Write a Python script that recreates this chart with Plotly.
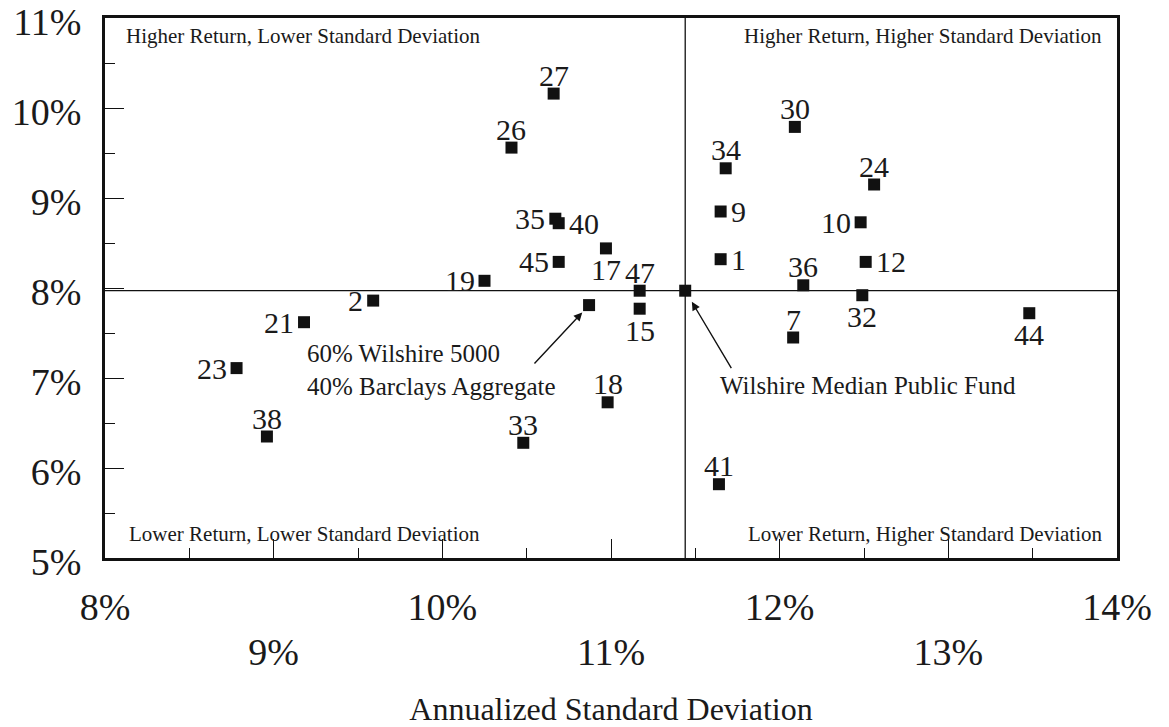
import plotly.graph_objects as go

# ---------------- data ----------------
fund_labels = ["27", "26", "35", "40", "17", "45", "19", "47", "2", "21", "23", "38",
               "15", "18", "33", "30", "34", "24", "9", "10", "1", "12", "36", "32",
               "7", "44", "41"]
fund_std = [10.66, 10.41, 10.67, 10.69, 10.97, 10.69, 10.25, 11.17, 9.59, 9.18, 8.78, 8.96,
            11.17, 10.98, 10.48, 12.09, 11.68, 12.56, 11.65, 12.48, 11.65, 12.51, 12.14, 12.49,
            12.08, 13.48, 11.64]
fund_ret = [10.16, 9.56, 8.77, 8.72, 8.44, 8.29, 8.08, 7.97, 7.86, 7.62, 7.11, 6.35,
            7.77, 6.73, 6.28, 9.79, 9.33, 9.15, 8.85, 8.73, 8.32, 8.29, 8.03, 7.92,
            7.45, 7.72, 5.82]

benchmark_name = "60% Wilshire 5000<br>40% Barclays Aggregate"
benchmark_std = 10.87
benchmark_ret = 7.81

median_name = "Wilshire Median Public Fund"
median_std = 11.44
median_ret = 7.97

x_ticks_upper = [8, 10, 12, 14]
x_ticks_lower = [9, 11, 13]
y_ticks = [5, 6, 7, 8, 9, 10, 11]

quadrant_names = ["Higher Return, Lower Standard Deviation",
                  "Higher Return, Higher Standard Deviation",
                  "Lower Return, Lower Standard Deviation",
                  "Lower Return, Higher Standard Deviation"]

x_title = "Annualized Standard Deviation"

# ---------------- styling ----------------
label_side = {
    "27": "top", "26": "top", "35": "left", "40": "right", "17": "bottom", "45": "left",
    "19": "left", "47": "top", "2": "left", "21": "left", "23": "left", "38": "top",
    "15": "bottom", "18": "top", "33": "top", "30": "top", "34": "top", "24": "top",
    "9": "right", "10": "left", "1": "right", "12": "right", "36": "top", "32": "bottom",
    "7": "top", "44": "bottom", "41": "top",
}
side_style = {
    "top": dict(xanchor="center", yanchor="bottom", xshift=0, yshift=0),
    "bottom": dict(xanchor="center", yanchor="top", xshift=0, yshift=-3),
    "left": dict(xanchor="right", yanchor="middle", xshift=-8, yshift=0),
    "right": dict(xanchor="left", yanchor="middle", xshift=8, yshift=0),
}
FONT = "Liberation Serif, Times New Roman, serif"
INK = "#1a1a1a"

fig = go.Figure()

fig.add_trace(go.Scatter(
    x=fund_std, y=fund_ret, mode="markers",
    marker=dict(symbol="square", size=12, color="#111111", line=dict(width=0)),
    showlegend=False, hoverinfo="skip"))

fig.add_trace(go.Scatter(
    x=[benchmark_std, median_std], y=[benchmark_ret, median_ret], mode="markers",
    marker=dict(symbol="square", size=12, color="#111111", line=dict(width=0)),
    showlegend=False, hoverinfo="skip"))

# invisible trace for the second x axis (lower row of tick labels)
fig.add_trace(go.Scatter(x=[median_std], y=[median_ret], xaxis="x2", mode="markers",
                         marker=dict(size=1, opacity=0), showlegend=False, hoverinfo="skip"))

# median cross-hair lines
fig.add_shape(type="line", xref="x", yref="paper", x0=median_std, x1=median_std, y0=0, y1=1,
              line=dict(color="#111111", width=1.3), layer="below")
fig.add_shape(type="line", xref="paper", yref="y", x0=0, x1=1, y0=median_ret, y1=median_ret,
              line=dict(color="#111111", width=1.3), layer="below")

ann = []
# point labels
nfont = dict(family=FONT, size=30, color=INK)
for lab, xs, ys in zip(fund_labels, fund_std, fund_ret):
    st = side_style[label_side[lab]]
    ann.append(dict(text=lab, x=xs, y=ys, xref="x", yref="y", showarrow=False,
                    font=nfont, **st))

qfont = dict(family=FONT, size=21, color=INK)
ann.append(dict(text=quadrant_names[0], xref="paper", yref="paper", x=0.0188, y=0.9667,
                xanchor="left", yanchor="middle", showarrow=False, font=qfont))
ann.append(dict(text=quadrant_names[1], xref="paper", yref="paper", x=0.9867, y=0.9667,
                xanchor="right", yanchor="middle", showarrow=False, font=qfont))
ann.append(dict(text=quadrant_names[2], xref="paper", yref="paper", x=0.0214, y=0.0444,
                xanchor="left", yanchor="middle", showarrow=False, font=qfont))
ann.append(dict(text=quadrant_names[3], xref="paper", yref="paper", x=0.9867, y=0.0444,
                xanchor="right", yanchor="middle", showarrow=False, font=qfont))

afont = dict(family=FONT, size=25, color=INK)
ann.append(dict(text=benchmark_name, xref="paper", yref="paper", x=0.1975, y=0.348,
                xanchor="left", yanchor="middle", align="left", showarrow=False, font=afont))
ann.append(dict(text="", x=benchmark_std, y=benchmark_ret, xref="x", yref="y",
                showarrow=True, ax=-56, ay=60, arrowhead=2, arrowsize=1.2, arrowwidth=1.4,
                arrowcolor="#111111", standoff=10))
ann.append(dict(text=median_name, xref="paper", yref="paper", x=0.6055, y=0.320,
                xanchor="left", yanchor="middle", align="left", showarrow=False, font=afont))
ann.append(dict(text="", x=median_std, y=median_ret, xref="x", yref="y",
                showarrow=True, ax=47, ay=79, arrowhead=2, arrowsize=1.2, arrowwidth=1.4,
                arrowcolor="#111111", standoff=13))

xvals_all = list(range(8, 15))
fig.update_layout(
    width=1169, height=727,
    margin=dict(l=105, r=51.5, t=18, b=169, autoexpand=False),
    paper_bgcolor="white", plot_bgcolor="white",
    font=dict(family=FONT, color=INK),
    annotations=ann,
    xaxis=dict(range=[8, 14], showgrid=False, zeroline=False,
               showline=True, linewidth=3, linecolor="#111111", mirror=True,
               ticks="inside", ticklen=19, tickwidth=1.3, tickcolor="#111111",
               tickvals=xvals_all,
               ticktext=[f"{v}%" if v in x_ticks_upper else "" for v in xvals_all],
               tickfont=dict(family=FONT, size=38, color=INK),
               ticklabelstandoff=13, ticklabeloverflow="allow",
               minor=dict(tickvals=[v + 0.5 for v in range(8, 14)], ticks="inside",
                          ticklen=10, tickwidth=1.3, tickcolor="#111111", showgrid=False),
               fixedrange=True),
    xaxis2=dict(range=[8, 14], overlaying="x", anchor="y", side="bottom",
                showgrid=False, zeroline=False, showline=False, ticks="",
                tickvals=x_ticks_lower, ticktext=[f"{v}%" for v in x_ticks_lower],
                tickfont=dict(family=FONT, size=38, color=INK),
                ticklabelstandoff=68, ticklabeloverflow="allow",
                title=dict(text=x_title, font=dict(family=FONT, size=32, color=INK), standoff=35)),
    yaxis=dict(range=[5, 11], showgrid=False, zeroline=False,
               showline=True, linewidth=3, linecolor="#111111", mirror=True,
               ticks="inside", ticklen=19, tickwidth=1.3, tickcolor="#111111",
               tickvals=y_ticks, ticktext=[f"{v}%" for v in y_ticks],
               tickfont=dict(family=FONT, size=38, color=INK),
               ticklabelstandoff=13, ticklabelshift=4, ticklabeloverflow="allow",
               minor=dict(tickvals=[v + 0.5 for v in range(5, 11)], ticks="inside",
                          ticklen=10, tickwidth=1.3, tickcolor="#111111", showgrid=False),
               fixedrange=True),
)

# remove the default 8px page margin so the figure sits at the window's top-left corner
fig.write_html("out.html", config={"displayModeBar": False},
               post_script="document.body.style.margin='0';")
